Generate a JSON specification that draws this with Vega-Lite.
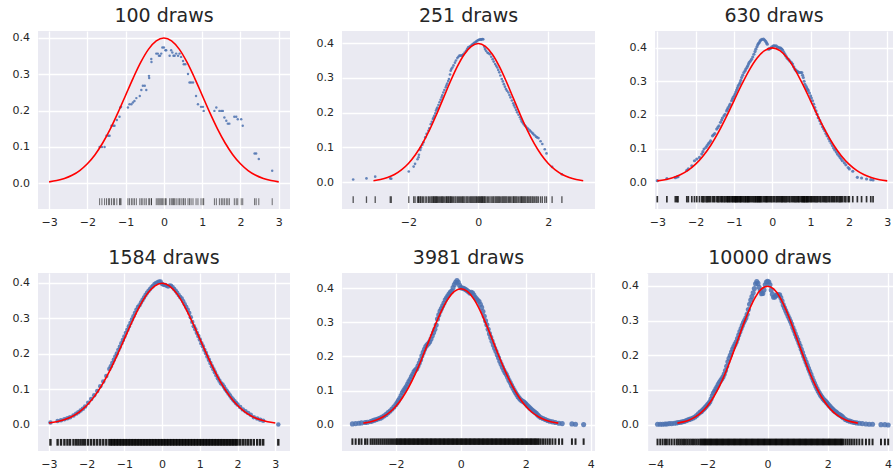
{
"$schema":"https://vega.github.io/schema/vega-lite/v6.json",
"padding":{"left":12,"top":7,"right":0,"bottom":0},
"background":"white",
"config":{
"view":{"fill":"#EAEAF2","stroke":null},
"font":"DejaVu Sans",
"axis":{"grid":true,"gridColor":"#FFFFFF","gridWidth":1.3,"domain":false,"ticks":false,"tickSize":0,"labelFont":"DejaVu Sans","labelFontSize":11,"labelColor":"#262626"},
"axisX":{"labelPadding":7},
"axisY":{"labelPadding":8.5},
"title":{"font":"DejaVu Sans","fontSize":19,"fontWeight":"normal","color":"#262626","offset":5,"baseline":"alphabetic"}
},
"datasets":{
"pdf":[{"x":-3.0,"y":0.0044},{"x":-2.8,"y":0.0079},{"x":-2.6,"y":0.0136},{"x":-2.4,"y":0.0224},{"x":-2.2,"y":0.0355},{"x":-2.0,"y":0.054},{"x":-1.8,"y":0.079},{"x":-1.6,"y":0.1109},{"x":-1.4,"y":0.1497},{"x":-1.2,"y":0.1942},{"x":-1.0,"y":0.242},{"x":-0.8,"y":0.2897},{"x":-0.6,"y":0.3332},{"x":-0.4,"y":0.3683},{"x":-0.2,"y":0.391},{"x":0,"y":0.3989},{"x":0.2,"y":0.391},{"x":0.4,"y":0.3683},{"x":0.6,"y":0.3332},{"x":0.8,"y":0.2897},{"x":1.0,"y":0.242},{"x":1.2,"y":0.1942},{"x":1.4,"y":0.1497},{"x":1.6,"y":0.1109},{"x":1.8,"y":0.079},{"x":2.0,"y":0.054},{"x":2.2,"y":0.0355},{"x":2.4,"y":0.0224},{"x":2.6,"y":0.0136},{"x":2.8,"y":0.0079},{"x":3.0,"y":0.0044}],
"d100":[{"x":-1.68,"y":0.1},{"x":-1.62,"y":0.1},{"x":-1.55,"y":0.1},{"x":-1.5,"y":0.131},{"x":-1.45,"y":0.131},{"x":-1.42,"y":0.131},{"x":-1.37,"y":0.158},{"x":-1.32,"y":0.158},{"x":-1.29,"y":0.158},{"x":-1.23,"y":0.174},{"x":-1.16,"y":0.183},{"x":-1.14,"y":0.208},{"x":-1.12,"y":0.21},{"x":-0.94,"y":0.208},{"x":-0.9,"y":0.217},{"x":-0.85,"y":0.217},{"x":-0.81,"y":0.222},{"x":-0.77,"y":0.226},{"x":-0.72,"y":0.234},{"x":-0.63,"y":0.24},{"x":-0.59,"y":0.256},{"x":-0.55,"y":0.268},{"x":-0.5,"y":0.268},{"x":-0.46,"y":0.256},{"x":-0.39,"y":0.295},{"x":-0.385,"y":0.289},{"x":-0.33,"y":0.341},{"x":-0.325,"y":0.333},{"x":-0.2,"y":0.356},{"x":-0.16,"y":0.356},{"x":-0.13,"y":0.35},{"x":-0.1,"y":0.35},{"x":-0.07,"y":0.356},{"x":-0.04,"y":0.373},{"x":0.0,"y":0.373},{"x":0.04,"y":0.365},{"x":0.06,"y":0.365},{"x":0.15,"y":0.35},{"x":0.19,"y":0.365},{"x":0.22,"y":0.359},{"x":0.25,"y":0.35},{"x":0.28,"y":0.35},{"x":0.32,"y":0.356},{"x":0.37,"y":0.35},{"x":0.41,"y":0.356},{"x":0.45,"y":0.347},{"x":0.5,"y":0.336},{"x":0.52,"y":0.327},{"x":0.56,"y":0.327},{"x":0.63,"y":0.3},{"x":0.67,"y":0.277},{"x":0.71,"y":0.277},{"x":0.76,"y":0.277},{"x":0.84,"y":0.24},{"x":0.89,"y":0.217},{"x":0.97,"y":0.21},{"x":1.02,"y":0.21},{"x":1.04,"y":0.199},{"x":1.32,"y":0.199},{"x":1.37,"y":0.208},{"x":1.45,"y":0.199},{"x":1.5,"y":0.199},{"x":1.54,"y":0.199},{"x":1.58,"y":0.181},{"x":1.63,"y":0.172},{"x":1.67,"y":0.164},{"x":1.71,"y":0.164},{"x":1.84,"y":0.183},{"x":1.89,"y":0.183},{"x":1.93,"y":0.176},{"x":2.02,"y":0.176},{"x":2.06,"y":0.158},{"x":2.37,"y":0.082},{"x":2.41,"y":0.082},{"x":2.48,"y":0.067},{"x":2.83,"y":0.035}],
"d251":[{"x":-3.58,"y":0.008},{"x":-3.2,"y":0.011},{"x":-2.95,"y":0.016},{"x":-2.52,"y":0.011},{"x":-2.49,"y":0.01},{"x":-1.99,"y":0.031},{"x":-1.85,"y":0.045},{"x":-1.81,"y":0.053},{"x":-1.74,"y":0.066},{"x":-1.71,"y":0.072},{"x":-1.7,"y":0.079},{"x":-1.66,"y":0.093},{"x":-1.64,"y":0.1},{"x":-1.6,"y":0.108},{"x":-1.57,"y":0.115},{"x":-1.52,"y":0.129},{"x":-1.48,"y":0.139},{"x":-1.43,"y":0.148},{"x":-1.4,"y":0.155},{"x":-1.36,"y":0.167},{"x":-1.33,"y":0.174},{"x":-1.3,"y":0.182},{"x":-1.28,"y":0.186},{"x":-1.26,"y":0.191},{"x":-1.23,"y":0.198},{"x":-1.21,"y":0.206},{"x":-1.19,"y":0.211},{"x":-1.17,"y":0.215},{"x":-1.14,"y":0.222},{"x":-1.11,"y":0.23},{"x":-1.08,"y":0.237},{"x":-1.05,"y":0.244},{"x":-1.03,"y":0.25},{"x":-1.0,"y":0.258},{"x":-0.97,"y":0.265},{"x":-0.93,"y":0.273},{"x":-0.91,"y":0.279},{"x":-0.89,"y":0.284},{"x":-0.86,"y":0.291},{"x":-0.84,"y":0.297},{"x":-0.81,"y":0.31},{"x":-0.79,"y":0.321},{"x":-0.77,"y":0.326},{"x":-0.74,"y":0.33},{"x":-0.71,"y":0.336},{"x":-0.67,"y":0.344},{"x":-0.64,"y":0.35},{"x":-0.6,"y":0.357},{"x":-0.57,"y":0.361},{"x":-0.54,"y":0.364},{"x":-0.51,"y":0.364},{"x":-0.48,"y":0.364},{"x":-0.45,"y":0.366},{"x":-0.43,"y":0.368},{"x":-0.39,"y":0.373},{"x":-0.35,"y":0.378},{"x":-0.32,"y":0.383},{"x":-0.29,"y":0.388},{"x":-0.25,"y":0.39},{"x":-0.22,"y":0.392},{"x":-0.19,"y":0.395},{"x":-0.16,"y":0.397},{"x":-0.13,"y":0.4},{"x":-0.1,"y":0.402},{"x":-0.07,"y":0.404},{"x":-0.05,"y":0.405},{"x":-0.02,"y":0.408},{"x":0.01,"y":0.409},{"x":0.03,"y":0.41},{"x":0.06,"y":0.411},{"x":0.08,"y":0.41},{"x":0.1,"y":0.411},{"x":0.12,"y":0.412},{"x":0.14,"y":0.411},{"x":0.17,"y":0.39},{"x":0.19,"y":0.383},{"x":0.22,"y":0.378},{"x":0.26,"y":0.373},{"x":0.29,"y":0.371},{"x":0.33,"y":0.368},{"x":0.37,"y":0.361},{"x":0.41,"y":0.354},{"x":0.44,"y":0.347},{"x":0.48,"y":0.34},{"x":0.51,"y":0.335},{"x":0.54,"y":0.33},{"x":0.57,"y":0.323},{"x":0.6,"y":0.316},{"x":0.63,"y":0.307},{"x":0.67,"y":0.297},{"x":0.7,"y":0.29},{"x":0.73,"y":0.282},{"x":0.76,"y":0.275},{"x":0.79,"y":0.268},{"x":0.82,"y":0.263},{"x":0.86,"y":0.258},{"x":0.89,"y":0.251},{"x":0.92,"y":0.244},{"x":0.96,"y":0.235},{"x":1.0,"y":0.227},{"x":1.02,"y":0.221},{"x":1.05,"y":0.215},{"x":1.08,"y":0.208},{"x":1.11,"y":0.201},{"x":1.15,"y":0.194},{"x":1.19,"y":0.187},{"x":1.22,"y":0.181},{"x":1.24,"y":0.175},{"x":1.27,"y":0.171},{"x":1.3,"y":0.167},{"x":1.33,"y":0.163},{"x":1.36,"y":0.16},{"x":1.4,"y":0.156},{"x":1.43,"y":0.153},{"x":1.47,"y":0.149},{"x":1.5,"y":0.146},{"x":1.54,"y":0.142},{"x":1.57,"y":0.139},{"x":1.61,"y":0.135},{"x":1.65,"y":0.131},{"x":1.68,"y":0.129},{"x":1.72,"y":0.127},{"x":1.78,"y":0.118},{"x":1.83,"y":0.11},{"x":1.9,"y":0.095},{"x":1.95,"y":0.083},{"x":2.11,"y":0.044},{"x":2.39,"y":0.023}],
"d630":[{"x":-3.0,"y":0.005},{"x":-2.75,"y":0.011},{"x":-2.53,"y":0.014},{"x":-2.49,"y":0.016},{"x":-2.46,"y":0.017},{"x":-2.23,"y":0.036},{"x":-2.19,"y":0.04},{"x":-2.1,"y":0.049},{"x":-2.03,"y":0.064},{"x":-1.97,"y":0.069},{"x":-1.9,"y":0.074},{"x":-1.84,"y":0.084},{"x":-1.81,"y":0.091},{"x":-1.78,"y":0.099},{"x":-1.73,"y":0.104},{"x":-1.7,"y":0.109},{"x":-1.67,"y":0.114},{"x":-1.64,"y":0.118},{"x":-1.61,"y":0.123},{"x":-1.56,"y":0.138},{"x":-1.53,"y":0.141},{"x":-1.5,"y":0.145},{"x":-1.45,"y":0.158},{"x":-1.42,"y":0.163},{"x":-1.39,"y":0.168},{"x":-1.35,"y":0.178},{"x":-1.32,"y":0.185},{"x":-1.3,"y":0.191},{"x":-1.26,"y":0.197},{"x":-1.23,"y":0.202},{"x":-1.19,"y":0.212},{"x":-1.17,"y":0.217},{"x":-1.15,"y":0.222},{"x":-1.12,"y":0.227},{"x":-1.1,"y":0.232},{"x":-1.06,"y":0.242},{"x":-1.04,"y":0.247},{"x":-1.02,"y":0.252},{"x":-0.99,"y":0.257},{"x":-0.97,"y":0.262},{"x":-0.95,"y":0.268},{"x":-0.93,"y":0.274},{"x":-0.91,"y":0.28},{"x":-0.89,"y":0.286},{"x":-0.86,"y":0.291},{"x":-0.84,"y":0.296},{"x":-0.82,"y":0.303},{"x":-0.8,"y":0.311},{"x":-0.77,"y":0.318},{"x":-0.74,"y":0.326},{"x":-0.71,"y":0.331},{"x":-0.69,"y":0.336},{"x":-0.66,"y":0.341},{"x":-0.64,"y":0.346},{"x":-0.62,"y":0.351},{"x":-0.6,"y":0.356},{"x":-0.57,"y":0.36},{"x":-0.54,"y":0.365},{"x":-0.51,"y":0.372},{"x":-0.48,"y":0.38},{"x":-0.45,"y":0.388},{"x":-0.43,"y":0.395},{"x":-0.4,"y":0.402},{"x":-0.38,"y":0.408},{"x":-0.36,"y":0.412},{"x":-0.34,"y":0.415},{"x":-0.32,"y":0.419},{"x":-0.3,"y":0.422},{"x":-0.27,"y":0.424},{"x":-0.23,"y":0.425},{"x":-0.2,"y":0.422},{"x":-0.17,"y":0.418},{"x":-0.15,"y":0.414},{"x":-0.13,"y":0.41},{"x":-0.1,"y":0.395},{"x":-0.07,"y":0.396},{"x":-0.04,"y":0.398},{"x":-0.01,"y":0.402},{"x":0.03,"y":0.405},{"x":0.06,"y":0.405},{"x":0.1,"y":0.405},{"x":0.13,"y":0.402},{"x":0.16,"y":0.4},{"x":0.19,"y":0.399},{"x":0.22,"y":0.398},{"x":0.25,"y":0.395},{"x":0.27,"y":0.392},{"x":0.3,"y":0.386},{"x":0.33,"y":0.38},{"x":0.36,"y":0.374},{"x":0.39,"y":0.368},{"x":0.43,"y":0.364},{"x":0.46,"y":0.36},{"x":0.5,"y":0.355},{"x":0.53,"y":0.351},{"x":0.56,"y":0.343},{"x":0.59,"y":0.336},{"x":0.62,"y":0.332},{"x":0.65,"y":0.329},{"x":0.68,"y":0.327},{"x":0.7,"y":0.326},{"x":0.74,"y":0.326},{"x":0.77,"y":0.326},{"x":0.79,"y":0.318},{"x":0.81,"y":0.311},{"x":0.83,"y":0.3},{"x":0.85,"y":0.291},{"x":0.88,"y":0.285},{"x":0.9,"y":0.28},{"x":0.92,"y":0.276},{"x":0.94,"y":0.272},{"x":0.97,"y":0.265},{"x":1.0,"y":0.257},{"x":1.02,"y":0.25},{"x":1.05,"y":0.242},{"x":1.08,"y":0.232},{"x":1.11,"y":0.222},{"x":1.14,"y":0.212},{"x":1.17,"y":0.202},{"x":1.2,"y":0.192},{"x":1.24,"y":0.183},{"x":1.27,"y":0.174},{"x":1.31,"y":0.165},{"x":1.34,"y":0.159},{"x":1.37,"y":0.153},{"x":1.4,"y":0.145},{"x":1.43,"y":0.138},{"x":1.47,"y":0.13},{"x":1.5,"y":0.123},{"x":1.54,"y":0.116},{"x":1.57,"y":0.109},{"x":1.6,"y":0.102},{"x":1.63,"y":0.096},{"x":1.67,"y":0.09},{"x":1.7,"y":0.084},{"x":1.74,"y":0.079},{"x":1.77,"y":0.074},{"x":1.8,"y":0.069},{"x":1.83,"y":0.064},{"x":1.88,"y":0.058},{"x":1.92,"y":0.052},{"x":1.98,"y":0.044},{"x":2.01,"y":0.04},{"x":2.1,"y":0.033},{"x":2.22,"y":0.015},{"x":2.33,"y":0.013},{"x":2.46,"y":0.01},{"x":2.57,"y":0.008},{"x":2.63,"y":0.007}],
"d1584":[{"x":-2.96,"y":0.006},{"x":-2.77,"y":0.01},{"x":-2.68,"y":0.012},{"x":-2.59,"y":0.015},{"x":-2.51,"y":0.018},{"x":-2.44,"y":0.021},{"x":-2.35,"y":0.026},{"x":-2.28,"y":0.031},{"x":-2.22,"y":0.035},{"x":-2.16,"y":0.04},{"x":-2.1,"y":0.045},{"x":-2.04,"y":0.051},{"x":-1.96,"y":0.062},{"x":-1.88,"y":0.072},{"x":-1.8,"y":0.083},{"x":-1.72,"y":0.095},{"x":-1.64,"y":0.108},{"x":-1.56,"y":0.122},{"x":-1.48,"y":0.137},{"x":-1.4,"y":0.157},{"x":-1.36,"y":0.165},{"x":-1.32,"y":0.174},{"x":-1.28,"y":0.183},{"x":-1.24,"y":0.192},{"x":-1.2,"y":0.201},{"x":-1.16,"y":0.211},{"x":-1.12,"y":0.22},{"x":-1.08,"y":0.23},{"x":-1.04,"y":0.239},{"x":-1.0,"y":0.249},{"x":-0.96,"y":0.259},{"x":-0.92,"y":0.268},{"x":-0.88,"y":0.278},{"x":-0.84,"y":0.287},{"x":-0.8,"y":0.297},{"x":-0.76,"y":0.306},{"x":-0.72,"y":0.315},{"x":-0.68,"y":0.324},{"x":-0.64,"y":0.332},{"x":-0.6,"y":0.337},{"x":-0.56,"y":0.345},{"x":-0.52,"y":0.352},{"x":-0.48,"y":0.359},{"x":-0.44,"y":0.366},{"x":-0.4,"y":0.372},{"x":-0.36,"y":0.378},{"x":-0.32,"y":0.383},{"x":-0.28,"y":0.388},{"x":-0.24,"y":0.392},{"x":-0.2,"y":0.397},{"x":-0.16,"y":0.4},{"x":-0.12,"y":0.402},{"x":-0.08,"y":0.404},{"x":-0.04,"y":0.404},{"x":0.0,"y":0.397},{"x":0.04,"y":0.395},{"x":0.08,"y":0.394},{"x":0.12,"y":0.392},{"x":0.16,"y":0.39},{"x":0.2,"y":0.393},{"x":0.24,"y":0.392},{"x":0.28,"y":0.388},{"x":0.32,"y":0.383},{"x":0.36,"y":0.378},{"x":0.4,"y":0.372},{"x":0.44,"y":0.366},{"x":0.48,"y":0.36},{"x":0.52,"y":0.356},{"x":0.56,"y":0.348},{"x":0.6,"y":0.34},{"x":0.64,"y":0.332},{"x":0.68,"y":0.324},{"x":0.72,"y":0.315},{"x":0.76,"y":0.303},{"x":0.8,"y":0.29},{"x":0.84,"y":0.278},{"x":0.88,"y":0.269},{"x":0.92,"y":0.259},{"x":0.96,"y":0.25},{"x":1.0,"y":0.24},{"x":1.04,"y":0.23},{"x":1.08,"y":0.221},{"x":1.12,"y":0.211},{"x":1.16,"y":0.202},{"x":1.2,"y":0.192},{"x":1.24,"y":0.183},{"x":1.28,"y":0.174},{"x":1.32,"y":0.165},{"x":1.36,"y":0.156},{"x":1.4,"y":0.148},{"x":1.44,"y":0.139},{"x":1.48,"y":0.131},{"x":1.52,"y":0.124},{"x":1.56,"y":0.117},{"x":1.6,"y":0.113},{"x":1.64,"y":0.107},{"x":1.68,"y":0.1},{"x":1.72,"y":0.094},{"x":1.76,"y":0.088},{"x":1.8,"y":0.082},{"x":1.84,"y":0.076},{"x":1.88,"y":0.071},{"x":1.92,"y":0.066},{"x":1.96,"y":0.061},{"x":2.0,"y":0.057},{"x":2.07,"y":0.05},{"x":2.14,"y":0.043},{"x":2.21,"y":0.038},{"x":2.28,"y":0.033},{"x":2.35,"y":0.028},{"x":2.43,"y":0.021},{"x":2.52,"y":0.017},{"x":2.6,"y":0.014},{"x":2.68,"y":0.011},{"x":3.08,"y":0.0}],
"d3981":[{"x":-3.34,"y":0.002},{"x":-3.24,"y":0.003},{"x":-3.14,"y":0.004},{"x":-3.06,"y":0.005},{"x":-2.95,"y":0.006},{"x":-2.88,"y":0.007},{"x":-2.78,"y":0.009},{"x":-2.72,"y":0.011},{"x":-2.66,"y":0.013},{"x":-2.6,"y":0.015},{"x":-2.54,"y":0.017},{"x":-2.48,"y":0.019},{"x":-2.42,"y":0.022},{"x":-2.36,"y":0.026},{"x":-2.3,"y":0.03},{"x":-2.24,"y":0.035},{"x":-2.18,"y":0.04},{"x":-2.12,"y":0.046},{"x":-2.06,"y":0.052},{"x":-2.0,"y":0.059},{"x":-1.96,"y":0.065},{"x":-1.92,"y":0.071},{"x":-1.88,"y":0.077},{"x":-1.84,"y":0.085},{"x":-1.8,"y":0.094},{"x":-1.76,"y":0.1},{"x":-1.72,"y":0.106},{"x":-1.68,"y":0.112},{"x":-1.64,"y":0.119},{"x":-1.6,"y":0.126},{"x":-1.56,"y":0.133},{"x":-1.52,"y":0.141},{"x":-1.48,"y":0.148},{"x":-1.44,"y":0.156},{"x":-1.4,"y":0.16},{"x":-1.36,"y":0.164},{"x":-1.32,"y":0.172},{"x":-1.28,"y":0.181},{"x":-1.24,"y":0.19},{"x":-1.2,"y":0.202},{"x":-1.16,"y":0.212},{"x":-1.12,"y":0.221},{"x":-1.08,"y":0.229},{"x":-1.04,"y":0.234},{"x":-1.0,"y":0.238},{"x":-0.96,"y":0.243},{"x":-0.92,"y":0.251},{"x":-0.88,"y":0.261},{"x":-0.84,"y":0.27},{"x":-0.8,"y":0.28},{"x":-0.76,"y":0.292},{"x":-0.72,"y":0.31},{"x":-0.68,"y":0.322},{"x":-0.64,"y":0.333},{"x":-0.6,"y":0.341},{"x":-0.56,"y":0.349},{"x":-0.52,"y":0.357},{"x":-0.48,"y":0.366},{"x":-0.44,"y":0.372},{"x":-0.4,"y":0.378},{"x":-0.36,"y":0.384},{"x":-0.32,"y":0.389},{"x":-0.28,"y":0.392},{"x":-0.24,"y":0.402},{"x":-0.2,"y":0.411},{"x":-0.16,"y":0.418},{"x":-0.12,"y":0.423},{"x":-0.08,"y":0.418},{"x":-0.04,"y":0.409},{"x":0.0,"y":0.402},{"x":0.04,"y":0.401},{"x":0.08,"y":0.4},{"x":0.12,"y":0.398},{"x":0.16,"y":0.396},{"x":0.2,"y":0.393},{"x":0.24,"y":0.39},{"x":0.28,"y":0.386},{"x":0.32,"y":0.388},{"x":0.36,"y":0.386},{"x":0.4,"y":0.38},{"x":0.44,"y":0.374},{"x":0.48,"y":0.369},{"x":0.52,"y":0.365},{"x":0.56,"y":0.361},{"x":0.6,"y":0.353},{"x":0.64,"y":0.344},{"x":0.68,"y":0.332},{"x":0.72,"y":0.318},{"x":0.76,"y":0.305},{"x":0.8,"y":0.293},{"x":0.84,"y":0.28},{"x":0.88,"y":0.267},{"x":0.92,"y":0.256},{"x":0.96,"y":0.245},{"x":1.0,"y":0.234},{"x":1.04,"y":0.224},{"x":1.08,"y":0.215},{"x":1.12,"y":0.205},{"x":1.16,"y":0.196},{"x":1.2,"y":0.186},{"x":1.24,"y":0.177},{"x":1.28,"y":0.168},{"x":1.32,"y":0.16},{"x":1.36,"y":0.153},{"x":1.4,"y":0.147},{"x":1.44,"y":0.139},{"x":1.48,"y":0.13},{"x":1.52,"y":0.123},{"x":1.56,"y":0.115},{"x":1.6,"y":0.108},{"x":1.64,"y":0.101},{"x":1.68,"y":0.094},{"x":1.72,"y":0.088},{"x":1.76,"y":0.082},{"x":1.8,"y":0.077},{"x":1.84,"y":0.073},{"x":1.88,"y":0.07},{"x":1.92,"y":0.068},{"x":1.96,"y":0.065},{"x":2.0,"y":0.061},{"x":2.04,"y":0.057},{"x":2.08,"y":0.053},{"x":2.12,"y":0.049},{"x":2.16,"y":0.046},{"x":2.2,"y":0.042},{"x":2.24,"y":0.039},{"x":2.28,"y":0.036},{"x":2.32,"y":0.033},{"x":2.36,"y":0.029},{"x":2.4,"y":0.025},{"x":2.46,"y":0.021},{"x":2.53,"y":0.018},{"x":2.6,"y":0.015},{"x":2.67,"y":0.012},{"x":2.74,"y":0.01},{"x":2.82,"y":0.008},{"x":2.91,"y":0.006},{"x":3.02,"y":0.004},{"x":3.12,"y":0.003},{"x":3.42,"y":0.002},{"x":3.53,"y":0.001},{"x":3.78,"y":0.0}],
"d10000":[{"x":-3.66,"y":0.001},{"x":-3.57,"y":0.001},{"x":-3.49,"y":0.001},{"x":-3.41,"y":0.002},{"x":-3.35,"y":0.002},{"x":-3.27,"y":0.003},{"x":-3.19,"y":0.003},{"x":-3.1,"y":0.004},{"x":-3.02,"y":0.005},{"x":-2.96,"y":0.006},{"x":-2.9,"y":0.007},{"x":-2.84,"y":0.008},{"x":-2.78,"y":0.009},{"x":-2.72,"y":0.011},{"x":-2.66,"y":0.013},{"x":-2.6,"y":0.015},{"x":-2.54,"y":0.017},{"x":-2.48,"y":0.019},{"x":-2.42,"y":0.022},{"x":-2.36,"y":0.026},{"x":-2.3,"y":0.031},{"x":-2.24,"y":0.036},{"x":-2.2,"y":0.038},{"x":-2.16,"y":0.042},{"x":-2.12,"y":0.045},{"x":-2.08,"y":0.049},{"x":-2.04,"y":0.053},{"x":-2.0,"y":0.057},{"x":-1.96,"y":0.061},{"x":-1.92,"y":0.066},{"x":-1.88,"y":0.074},{"x":-1.84,"y":0.083},{"x":-1.8,"y":0.091},{"x":-1.76,"y":0.097},{"x":-1.72,"y":0.103},{"x":-1.68,"y":0.109},{"x":-1.64,"y":0.116},{"x":-1.6,"y":0.122},{"x":-1.56,"y":0.127},{"x":-1.52,"y":0.132},{"x":-1.48,"y":0.138},{"x":-1.44,"y":0.146},{"x":-1.4,"y":0.156},{"x":-1.36,"y":0.168},{"x":-1.32,"y":0.181},{"x":-1.28,"y":0.191},{"x":-1.24,"y":0.2},{"x":-1.2,"y":0.209},{"x":-1.16,"y":0.218},{"x":-1.12,"y":0.225},{"x":-1.08,"y":0.232},{"x":-1.04,"y":0.239},{"x":-1.0,"y":0.248},{"x":-0.96,"y":0.258},{"x":-0.92,"y":0.268},{"x":-0.88,"y":0.277},{"x":-0.84,"y":0.286},{"x":-0.8,"y":0.294},{"x":-0.76,"y":0.301},{"x":-0.72,"y":0.308},{"x":-0.68,"y":0.318},{"x":-0.64,"y":0.332},{"x":-0.6,"y":0.347},{"x":-0.56,"y":0.359},{"x":-0.52,"y":0.369},{"x":-0.48,"y":0.38},{"x":-0.44,"y":0.392},{"x":-0.4,"y":0.406},{"x":-0.36,"y":0.412},{"x":-0.32,"y":0.407},{"x":-0.28,"y":0.396},{"x":-0.24,"y":0.386},{"x":-0.2,"y":0.377},{"x":-0.16,"y":0.378},{"x":-0.12,"y":0.388},{"x":-0.08,"y":0.403},{"x":-0.04,"y":0.411},{"x":0.0,"y":0.413},{"x":0.04,"y":0.411},{"x":0.08,"y":0.403},{"x":0.12,"y":0.388},{"x":0.16,"y":0.376},{"x":0.2,"y":0.367},{"x":0.24,"y":0.368},{"x":0.28,"y":0.372},{"x":0.32,"y":0.375},{"x":0.36,"y":0.374},{"x":0.4,"y":0.374},{"x":0.44,"y":0.366},{"x":0.48,"y":0.356},{"x":0.52,"y":0.345},{"x":0.56,"y":0.337},{"x":0.6,"y":0.329},{"x":0.64,"y":0.321},{"x":0.68,"y":0.313},{"x":0.72,"y":0.306},{"x":0.76,"y":0.298},{"x":0.8,"y":0.29},{"x":0.84,"y":0.28},{"x":0.88,"y":0.271},{"x":0.92,"y":0.262},{"x":0.96,"y":0.253},{"x":1.0,"y":0.245},{"x":1.04,"y":0.236},{"x":1.08,"y":0.227},{"x":1.12,"y":0.217},{"x":1.16,"y":0.208},{"x":1.2,"y":0.198},{"x":1.24,"y":0.189},{"x":1.28,"y":0.18},{"x":1.32,"y":0.171},{"x":1.36,"y":0.162},{"x":1.4,"y":0.154},{"x":1.44,"y":0.145},{"x":1.48,"y":0.136},{"x":1.52,"y":0.127},{"x":1.56,"y":0.119},{"x":1.6,"y":0.111},{"x":1.64,"y":0.104},{"x":1.68,"y":0.097},{"x":1.72,"y":0.091},{"x":1.76,"y":0.085},{"x":1.8,"y":0.08},{"x":1.84,"y":0.075},{"x":1.88,"y":0.071},{"x":1.92,"y":0.068},{"x":1.96,"y":0.064},{"x":2.0,"y":0.06},{"x":2.04,"y":0.056},{"x":2.08,"y":0.052},{"x":2.12,"y":0.048},{"x":2.16,"y":0.045},{"x":2.2,"y":0.041},{"x":2.24,"y":0.038},{"x":2.28,"y":0.036},{"x":2.32,"y":0.033},{"x":2.36,"y":0.03},{"x":2.4,"y":0.028},{"x":2.44,"y":0.026},{"x":2.48,"y":0.023},{"x":2.52,"y":0.02},{"x":2.59,"y":0.015},{"x":2.66,"y":0.012},{"x":2.73,"y":0.01},{"x":2.8,"y":0.008},{"x":2.88,"y":0.006},{"x":2.96,"y":0.005},{"x":3.05,"y":0.004},{"x":3.15,"y":0.003},{"x":3.27,"y":0.002},{"x":3.38,"y":0.001},{"x":3.49,"y":0.001},{"x":3.77,"y":0.0},{"x":3.9,"y":0.0},{"x":4.01,"y":-0.001}]
},
"spacing":22,
"vconcat":[
{"hconcat":[
 {"hconcat":[
  {"width":252,"height":178,"title":"100 draws","data":{"name":"d100"},
   "encoding":{"x":{"field":"x","type":"quantitative","title":null,"scale":{"domain":[-3.29,3.295],"nice":false,"zero":false},"axis":{"values":[-3,-2,-1,0,1,2,3],"format":"d"}},
    "y":{"field":"y","type":"quantitative","title":null,"scale":{"domain":[-0.07,0.418],"nice":false,"zero":false},"axis":{"values":[0,0.1,0.2,0.3,0.4],"format":".1f"}}},
   "layer":[
    {"mark":{"type":"rule","color":"black","opacity":0.55,"strokeWidth":1},"encoding":{"y":{"datum":-0.0595},"y2":{"datum":-0.0405}}},
    {"mark":{"type":"circle","size":6,"color":"#4C72B0","opacity":0.85}},
    {"data":{"name":"pdf"},"mark":{"type":"line","color":"#FF0000","strokeWidth":1.6,"interpolate":"monotone"}}
   ]},
  {"width":253,"height":178,"title":"251 draws","data":{"name":"d251"},
   "encoding":{"x":{"field":"x","type":"quantitative","title":null,"scale":{"domain":[-3.9,3.337],"nice":false,"zero":false},"axis":{"values":[-2,0,2],"format":"d"}},
    "y":{"field":"y","type":"quantitative","title":null,"scale":{"domain":[-0.077,0.435],"nice":false,"zero":false},"axis":{"values":[0,0.1,0.2,0.3,0.4],"format":".1f"}}},
   "layer":[
    {"mark":{"type":"rule","color":"black","opacity":0.65,"strokeWidth":1.3},"encoding":{"y":{"datum":-0.0595},"y2":{"datum":-0.0405}}},
    {"mark":{"type":"circle","size":7,"color":"#4C72B0","opacity":0.85}},
    {"data":{"name":"pdf"},"mark":{"type":"line","color":"#FF0000","strokeWidth":1.6,"interpolate":"monotone"}}
   ]}
 ],"spacing":26},
 {"width":238,"height":178,"title":"630 draws","data":{"name":"d630"},
   "encoding":{"x":{"field":"x","type":"quantitative","title":null,"scale":{"domain":[-3.06,3.15],"nice":false,"zero":false},"axis":{"values":[-3,-2,-1,0,1,2,3],"format":"d"}},
    "y":{"field":"y","type":"quantitative","title":null,"scale":{"domain":[-0.079,0.449],"nice":false,"zero":false},"axis":{"values":[0,0.1,0.2,0.3,0.4],"format":".1f"}}},
   "layer":[
    {"mark":{"type":"rule","color":"black","opacity":0.8,"strokeWidth":1.7},"encoding":{"y":{"datum":-0.0595},"y2":{"datum":-0.0405}}},
    {"mark":{"type":"circle","size":10,"color":"#4C72B0","opacity":0.85}},
    {"data":{"name":"pdf"},"mark":{"type":"line","color":"#FF0000","strokeWidth":1.6,"interpolate":"monotone"}}
   ]}
],"spacing":34},
{"hconcat":[
  {"width":252,"height":178,"title":"1584 draws","data":{"name":"d1584"},
   "encoding":{"x":{"field":"x","type":"quantitative","title":null,"scale":{"domain":[-3.29,3.39],"nice":false,"zero":false},"axis":{"values":[-3,-2,-1,0,1,2,3],"format":"d"}},
    "y":{"field":"y","type":"quantitative","title":null,"scale":{"domain":[-0.0745,0.428],"nice":false,"zero":false},"axis":{"values":[0,0.1,0.2,0.3,0.4],"format":".1f"}}},
   "layer":[
    {"mark":{"type":"rule","color":"black","opacity":0.85,"strokeWidth":2.4},"encoding":{"y":{"datum":-0.0595},"y2":{"datum":-0.0405}}},
    {"mark":{"type":"circle","size":20,"color":"#4C72B0","opacity":0.85}},
    {"data":{"name":"pdf"},"mark":{"type":"line","color":"#FF0000","strokeWidth":1.6,"interpolate":"monotone"}}
   ]},
  {"width":253,"height":178,"title":"3981 draws","data":{"name":"d3981"},
   "encoding":{"x":{"field":"x","type":"quantitative","title":null,"scale":{"domain":[-3.66,4.13],"nice":false,"zero":false},"axis":{"values":[-2,0,2,4],"format":"d"}},
    "y":{"field":"y","type":"quantitative","title":null,"scale":{"domain":[-0.0775,0.445],"nice":false,"zero":false},"axis":{"values":[0,0.1,0.2,0.3,0.4],"format":".1f"}}},
   "layer":[
    {"mark":{"type":"rule","color":"black","opacity":0.85,"strokeWidth":2},"encoding":{"y":{"datum":-0.0595},"y2":{"datum":-0.0405}}},
    {"mark":{"type":"circle","size":26,"color":"#4C72B0","opacity":0.85}},
    {"data":{"name":"pdf"},"mark":{"type":"line","color":"#FF0000","strokeWidth":1.6,"interpolate":"monotone"}}
   ]},
  {"width":246,"height":178,"title":"10000 draws","data":{"name":"d10000"},
   "encoding":{"x":{"field":"x","type":"quantitative","title":null,"scale":{"domain":[-4.01,4.17],"nice":false,"zero":false},"axis":{"values":[-4,-2,0,2,4],"format":"d"}},
    "y":{"field":"y","type":"quantitative","title":null,"scale":{"domain":[-0.076,0.437],"nice":false,"zero":false},"axis":{"values":[0,0.1,0.2,0.3,0.4],"format":".1f"}}},
   "layer":[
    {"mark":{"type":"rule","color":"black","opacity":0.85,"strokeWidth":2},"encoding":{"y":{"datum":-0.0595},"y2":{"datum":-0.0405}}},
    {"mark":{"type":"circle","size":26,"color":"#4C72B0","opacity":0.85}},
    {"data":{"name":"pdf"},"mark":{"type":"line","color":"#FF0000","strokeWidth":1.6,"interpolate":"monotone"}}
   ]}
],"spacing":26}
]
}
